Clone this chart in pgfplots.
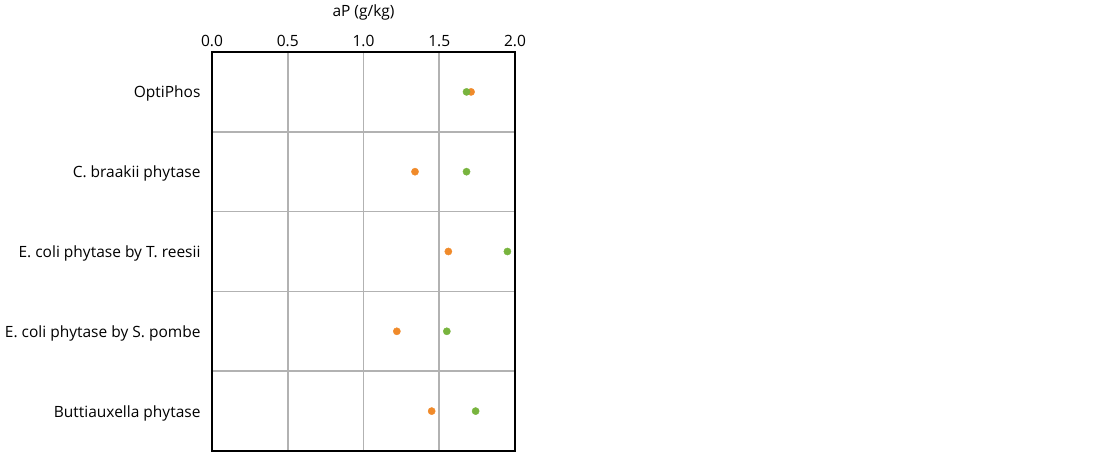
\documentclass[border=0pt]{standalone}
\usepackage{pgfplots}
\pgfplotsset{compat=1.18}
\usepackage{fontspec}
\setmainfont{Open Sans}
\definecolor{cOr}{HTML}{F08A2A}
\definecolor{cGr}{HTML}{78B43E}
\begin{document}
\begin{tikzpicture}[x=1bp,y=1bp]
\useasboundingbox (0,0) rectangle (1100,456);
\begin{axis}[
  at={(212bp,5bp)}, anchor=south west,
  scale only axis, width=303bp, height=399bp,
  xmin=0, xmax=2, ymin=-0.5, ymax=4.5, y dir=reverse,
  xtick={0,0.5,1,1.5,2},
  xticklabels={0.0,0.5,1.0,1.5,2.0},
  xticklabel pos=right,
  xlabel={aP (g/kg)}, xlabel style={font=\fontsize{15.5bp}{18bp}\selectfont, yshift=8bp},
  ytick={0,1,2,3,4},
  yticklabels={OptiPhos, C. braakii phytase, E. coli phytase by T. reesii, E. coli phytase by S. pombe, Buttiauxella phytase},
  minor ytick={0.5,1.5,2.5,3.5},
  ymajorgrids=false, yminorgrids=true, xmajorgrids=true,
  grid style={draw=black!30, line width=1.6bp},
  minor grid style={draw=black!30, line width=1.6bp},
  major tick length=0, minor tick length=0,
  tick label style={font=\fontsize{15.5bp}{18bp}\selectfont},
  /pgf/number format/assume math mode=true,
  yticklabel style={xshift=-8bp, yshift=-2bp},
  xticklabel style={yshift=2bp},
  axis line style={black, line width=1.8bp},
  clip=false,
]
\addplot[only marks, mark=*, mark size=3.6bp, color=cOr, mark options={draw=cOr,fill=cOr}] coordinates {
 (1.71,0) (1.34,1) (1.56,2) (1.22,3) (1.45,4)};
\addplot[only marks, mark=*, mark size=3.6bp, color=cGr, mark options={draw=cGr,fill=cGr}] coordinates {
 (1.68,0) (1.68,1) (1.95,2) (1.55,3) (1.74,4)};
\end{axis}
\end{tikzpicture}
\end{document}
